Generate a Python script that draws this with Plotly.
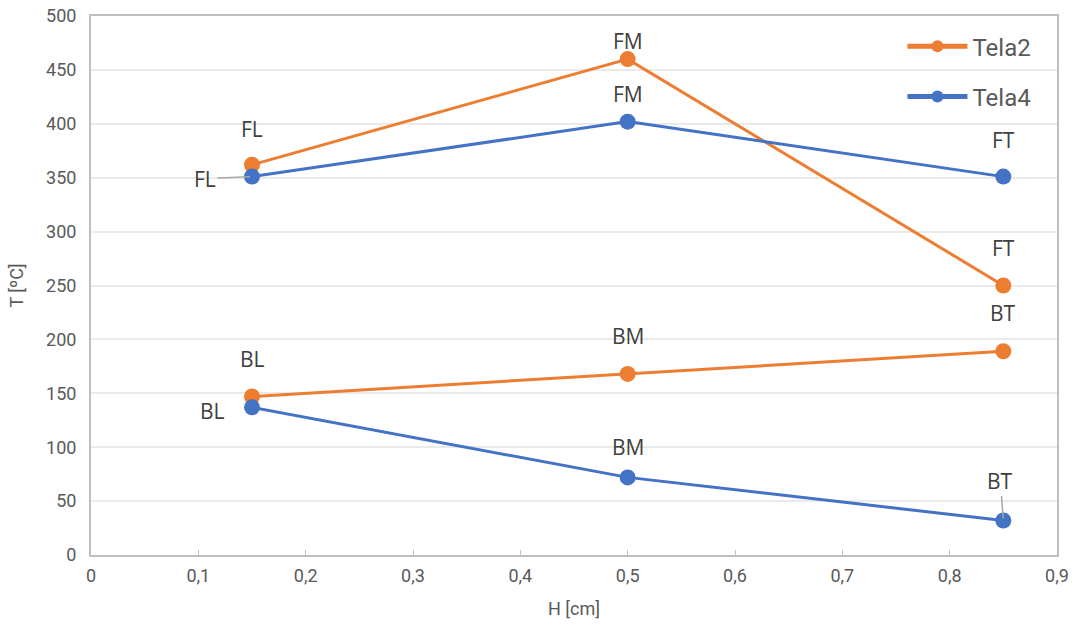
import plotly.graph_objects as go

# Positions across the sample (cm)
h_cm = [0.15, 0.5, 0.85]

# Temperatures (ºC): front face (F) and back face (B) for each fabric
tela2_front = [362, 460, 250]
tela2_back = [147, 168, 189]
tela4_front = [351, 402, 351]
tela4_back = [137, 72, 32]

front_labels = ["FL", "FM", "FT"]
back_labels = ["BL", "BM", "BT"]

x_ticks = [0, 0.1, 0.2, 0.3, 0.4, 0.5, 0.6, 0.7, 0.8, 0.9]
x_tick_text = ["0", "0,1", "0,2", "0,3", "0,4", "0,5", "0,6", "0,7", "0,8", "0,9"]
y_ticks = [0, 50, 100, 150, 200, 250, 300, 350, 400, 450, 500]

ORANGE = "#ED7D31"
BLUE = "#4472C4"
GREY_TEXT = "#595959"
LABEL_FONT = dict(family="Open Sans, Roboto, sans-serif", size=21, color="#404040")

fig = go.Figure()

series = [
    ("Tela2", ORANGE, tela2_front, tela2_back),
    ("Tela4", BLUE, tela4_front, tela4_back),
]
for name, color, front, back in series:
    for i, vals in enumerate([front, back]):
        fig.add_trace(go.Scatter(
            x=h_cm, y=vals, mode="lines+markers", name=name,
            legendgroup=name, showlegend=(i == 0),
            line=dict(color=color, width=3),
            marker=dict(color=color, size=16),
        ))

# Point labels: (x, y, text, x offset px, y offset px, leader line)
labels = []
for x, y, t, dy in zip(h_cm, tela2_front, front_labels, [-36, -18, -38]):
    labels.append((x, y, t, 0, dy, False))
for x, y, t in zip(h_cm, tela2_back, back_labels):
    labels.append((x, y, t, 0, -38, False))
for x, y, t, dx, dy, lead in zip(h_cm, tela4_front, front_labels,
                                 [-47, 0, 0], [2, -28, -37], [True, False, False]):
    labels.append((x, y, t, dx, dy, lead))
for x, y, t, dx, dy, lead in zip(h_cm, tela4_back, back_labels,
                                 [-40, 0, -3], [4, -30, -40], [False, False, True]):
    labels.append((x, y, t, dx, dy, lead))

for x, y, t, dx, dy, lead in labels:
    if lead:
        fig.add_annotation(x=x, y=y, text=t, showarrow=True, ax=dx, ay=dy,
                           arrowhead=0, arrowwidth=1.5, arrowcolor="#A6A6A6",
                           standoff=2, font=LABEL_FONT)
    else:
        fig.add_annotation(x=x, y=y, text=t, showarrow=False,
                           xshift=dx, yshift=-dy, font=LABEL_FONT)

# White panel behind the legend, covering the gridlines
fig.add_shape(type="rect", xref="paper", yref="paper",
              x0=0.821, x1=0.998, y0=0.807, y1=0.998,
              fillcolor="white", line_width=0, layer="between")

fig.update_layout(
    width=1072, height=624,
    margin=dict(l=91, r=15, t=16, b=69, autoexpand=False),
    paper_bgcolor="white", plot_bgcolor="white",
    font=dict(family="Roboto, sans-serif", color=GREY_TEXT, size=18),
    legend=dict(
        x=0.84, y=0.985, xanchor="left", yanchor="top",
        bgcolor="rgba(0,0,0,0)", borderwidth=0,
        font=dict(size=24, color=GREY_TEXT),
        itemwidth=60, itemsizing="constant",
        traceorder="grouped", tracegroupgap=16,
    ),
    xaxis=dict(
        range=[0, 0.9], tickvals=x_ticks, ticktext=x_tick_text,
        showgrid=False, zeroline=False, automargin=False,
        showline=True, linecolor="#BFBFBF", linewidth=2, mirror=True,
        ticks="inside", ticklen=5, tickcolor="#BFBFBF",
        ticklabelstandoff=3,
        tickfont=dict(size=18, color=GREY_TEXT),
        title=dict(text="H [cm]", font=dict(size=18, color=GREY_TEXT), standoff=18),
    ),
    yaxis=dict(
        range=[0, 500], tickvals=y_ticks,
        showgrid=True, gridcolor="#EAEAEA", gridwidth=2, zeroline=False,
        automargin=False,
        showline=True, linecolor="#BFBFBF", linewidth=2, mirror=True,
        ticks="", ticklabelstandoff=9,
        tickfont=dict(size=18, color=GREY_TEXT),
        title=dict(text="T [ºC]", font=dict(size=18, color=GREY_TEXT), standoff=18),
    ),
)

fig.write_html("out.html")
